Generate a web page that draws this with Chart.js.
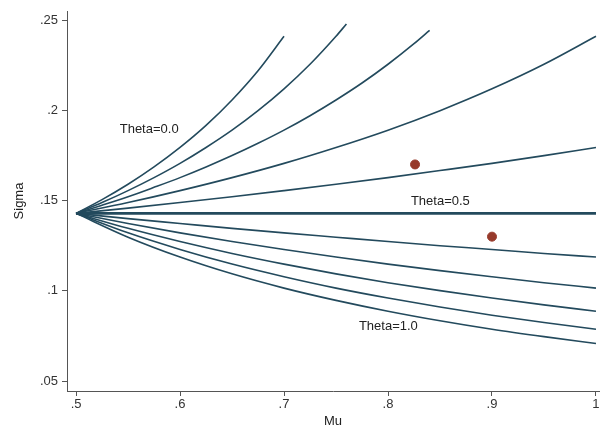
<!DOCTYPE html>
<html>
<head>
<meta charset="utf-8">
<script src="https://cdn.jsdelivr.net/npm/chart.js@4.4.1/dist/chart.umd.min.js"></script>
<style>
  html, body { margin: 0; padding: 0; background: #ffffff; }
  #wrap { width: 601px; height: 429px; }
</style>
</head>
<body>
<div id="wrap"><canvas id="c" width="601" height="429"></canvas></div>
<script>
// ---- data ----
const muGrid = [0.50, 0.55, 0.60, 0.65, 0.70, 0.75, 0.80, 0.85, 0.90, 0.95, 1.00];
// finer grid used for the three steep upper curves
const muFine = [0.500, 0.525, 0.550, 0.575, 0.600, 0.625, 0.650, 0.675, 0.700, 0.725, 0.750, 0.775, 0.800, 0.825];

// sigma for each theta curve (theta = 0.0 ... 1.0)
const theta00 = [0.1429, 0.1505, 0.1590, 0.1686, 0.1794, 0.1916, 0.2057, 0.2219, 0.2410];           // on muFine
const theta01 = [0.1429, 0.1489, 0.1555, 0.1627, 0.1706, 0.1794, 0.1890, 0.1998, 0.2119, 0.2255, 0.2410]; // on muFine
const theta01EndMu = 0.76, theta01EndSigma = 0.2478;
const theta02 = [0.1429, 0.1474, 0.1521, 0.1573, 0.1627, 0.1686, 0.1749, 0.1817, 0.1890, 0.1970, 0.2057, 0.2151, 0.2255, 0.2369]; // on muFine
const theta02EndMu = 0.84, theta02EndSigma = 0.2443;
const theta03 = [0.1429, 0.1489, 0.1555, 0.1627, 0.1706, 0.1794, 0.1890, 0.1998, 0.2119, 0.2255, 0.2410];
const theta04 = [0.1429, 0.1458, 0.1489, 0.1521, 0.1555, 0.1590, 0.1627, 0.1666, 0.1706, 0.1749, 0.1794];
const theta05 = [0.1429, 0.1429, 0.1429, 0.1429, 0.1429, 0.1429, 0.1429, 0.1429, 0.1429, 0.1429, 0.1429];
const theta06 = [0.1429, 0.1400, 0.1373, 0.1346, 0.1321, 0.1297, 0.1273, 0.1250, 0.1229, 0.1207, 0.1187];
const theta07 = [0.1429, 0.1373, 0.1321, 0.1273, 0.1229, 0.1187, 0.1148, 0.1112, 0.1078, 0.1045, 0.1015];
const theta08 = [0.1429, 0.1346, 0.1273, 0.1207, 0.1148, 0.1094, 0.1045, 0.1001, 0.0960, 0.0922, 0.0887];
const theta09 = [0.1429, 0.1321, 0.1229, 0.1148, 0.1078, 0.1015, 0.0960, 0.0910, 0.0865, 0.0824, 0.0787];
const theta10 = [0.1429, 0.1297, 0.1187, 0.1094, 0.1015, 0.0947, 0.0887, 0.0834, 0.0787, 0.0746, 0.0708];

// observed points
const pointMu = [0.826, 0.900];
const pointSigma = [0.170, 0.130];

// curve labels
const labelText = ["Theta=0.0", "Theta=0.5", "Theta=1.0"];
const labelMu = [0.542, 0.822, 0.772];
const labelSigma = [0.1895, 0.1497, 0.0800];

// tick labels
const xTicks = [0.5, 0.6, 0.7, 0.8, 0.9, 1.0];
const xTickText = [".5", ".6", ".7", ".8", ".9", "1"];
const yTicks = [0.05, 0.10, 0.15, 0.20, 0.25];
const yTickText = [".05", ".1", ".15", ".2", ".25"];

// ---- build datasets ----
function pts(grid, vals, endMu, endSigma) {
  const out = vals.map((v, i) => ({ x: grid[i], y: v }));
  if (endMu !== undefined) out.push({ x: endMu, y: endSigma });
  return out;
}
const lineColor = '#234a5d';
const curves = [
  pts(muFine, theta00),
  pts(muFine, theta01, theta01EndMu, theta01EndSigma),
  pts(muFine, theta02, theta02EndMu, theta02EndSigma),
  pts(muGrid, theta03), pts(muGrid, theta04), pts(muGrid, theta05), pts(muGrid, theta06),
  pts(muGrid, theta07), pts(muGrid, theta08), pts(muGrid, theta09), pts(muGrid, theta10)
];
const datasets = curves.map((d, i) => ({
  type: 'line',
  data: d,
  borderColor: lineColor,
  borderWidth: i === 5 ? 2.6 : 1.6,
  pointRadius: 0,
  fill: false,
  cubicInterpolationMode: 'monotone'
}));
datasets.push({
  type: 'scatter',
  data: pointMu.map((m, i) => ({ x: m, y: pointSigma[i] })),
  backgroundColor: '#973a2b',
  borderColor: '#973a2b',
  pointRadius: 4.5,
  pointHoverRadius: 4.5
});

const fontCss = '13px "Liberation Sans", Arial, sans-serif';
const labelPlugin = {
  id: 'curveLabels',
  afterDraw(chart) {
    const ctx = chart.ctx;
    const xs = chart.scales.x, ys = chart.scales.y;
    ctx.save();
    ctx.font = fontCss;
    ctx.fillStyle = '#222222';
    ctx.textAlign = 'left';
    ctx.textBaseline = 'middle';
    labelText.forEach((t, i) => {
      ctx.fillText(t, xs.getPixelForValue(labelMu[i]), ys.getPixelForValue(labelSigma[i]));
    });
    // x tick labels
    ctx.fillStyle = '#333333';
    ctx.textAlign = 'center';
    ctx.textBaseline = 'top';
    xTicks.forEach((v, i) => {
      ctx.fillText(xTickText[i], xs.getPixelForValue(v), xs.top + 7);
    });
    ctx.restore();
  }
};

const font = { family: '"Liberation Sans", Arial, sans-serif', size: 13 };
new Chart(document.getElementById('c'), {
  type: 'line',
  data: { datasets },
  options: {
    responsive: false,
    animation: false,
    layout: { autoPadding: false, padding: { top: 11, right: 2, left: 0, bottom: 0 } },
    plugins: { legend: { display: false }, tooltip: { enabled: false } },
    scales: {
      x: {
        type: 'linear',
        min: 0.4913,
        max: 1.0029,
        afterBuildTicks(s) { s.ticks = xTicks.map(v => ({ value: v })); },
        afterFit(s) { s.height = 38; s.paddingRight = 0; s.paddingLeft = 0; },
        ticks: { display: false },
        grid: { display: true, drawOnChartArea: false, drawTicks: true, tickLength: 5, color: '#555555', lineWidth: 1 },
        border: { display: true, color: '#555555', width: 1 },
        title: { display: true, text: 'Mu', color: '#222222', font, padding: { top: 0, bottom: 0 } }
      },
      y: {
        type: 'linear',
        min: 0.0445,
        max: 0.2550,
        afterBuildTicks(s) { s.ticks = yTicks.map(v => ({ value: v })); },
        afterFit(s) { s.width = 67; s.paddingTop = 0; s.paddingBottom = 0; },
        ticks: {
          color: '#333333', font, padding: 4, autoSkip: false,
          callback(v) { const i = yTicks.findIndex(t => Math.abs(t - v) < 1e-9); return i >= 0 ? yTickText[i] : ''; }
        },
        grid: { display: true, drawOnChartArea: false, drawTicks: true, tickLength: 5, color: '#555555', lineWidth: 1 },
        border: { display: true, color: '#555555', width: 1 },
        title: { display: true, text: 'Sigma', color: '#222222', font, padding: { top: 12, bottom: 0 } }
      }
    }
  },
  plugins: [labelPlugin]
});
</script>
</body>
</html>
